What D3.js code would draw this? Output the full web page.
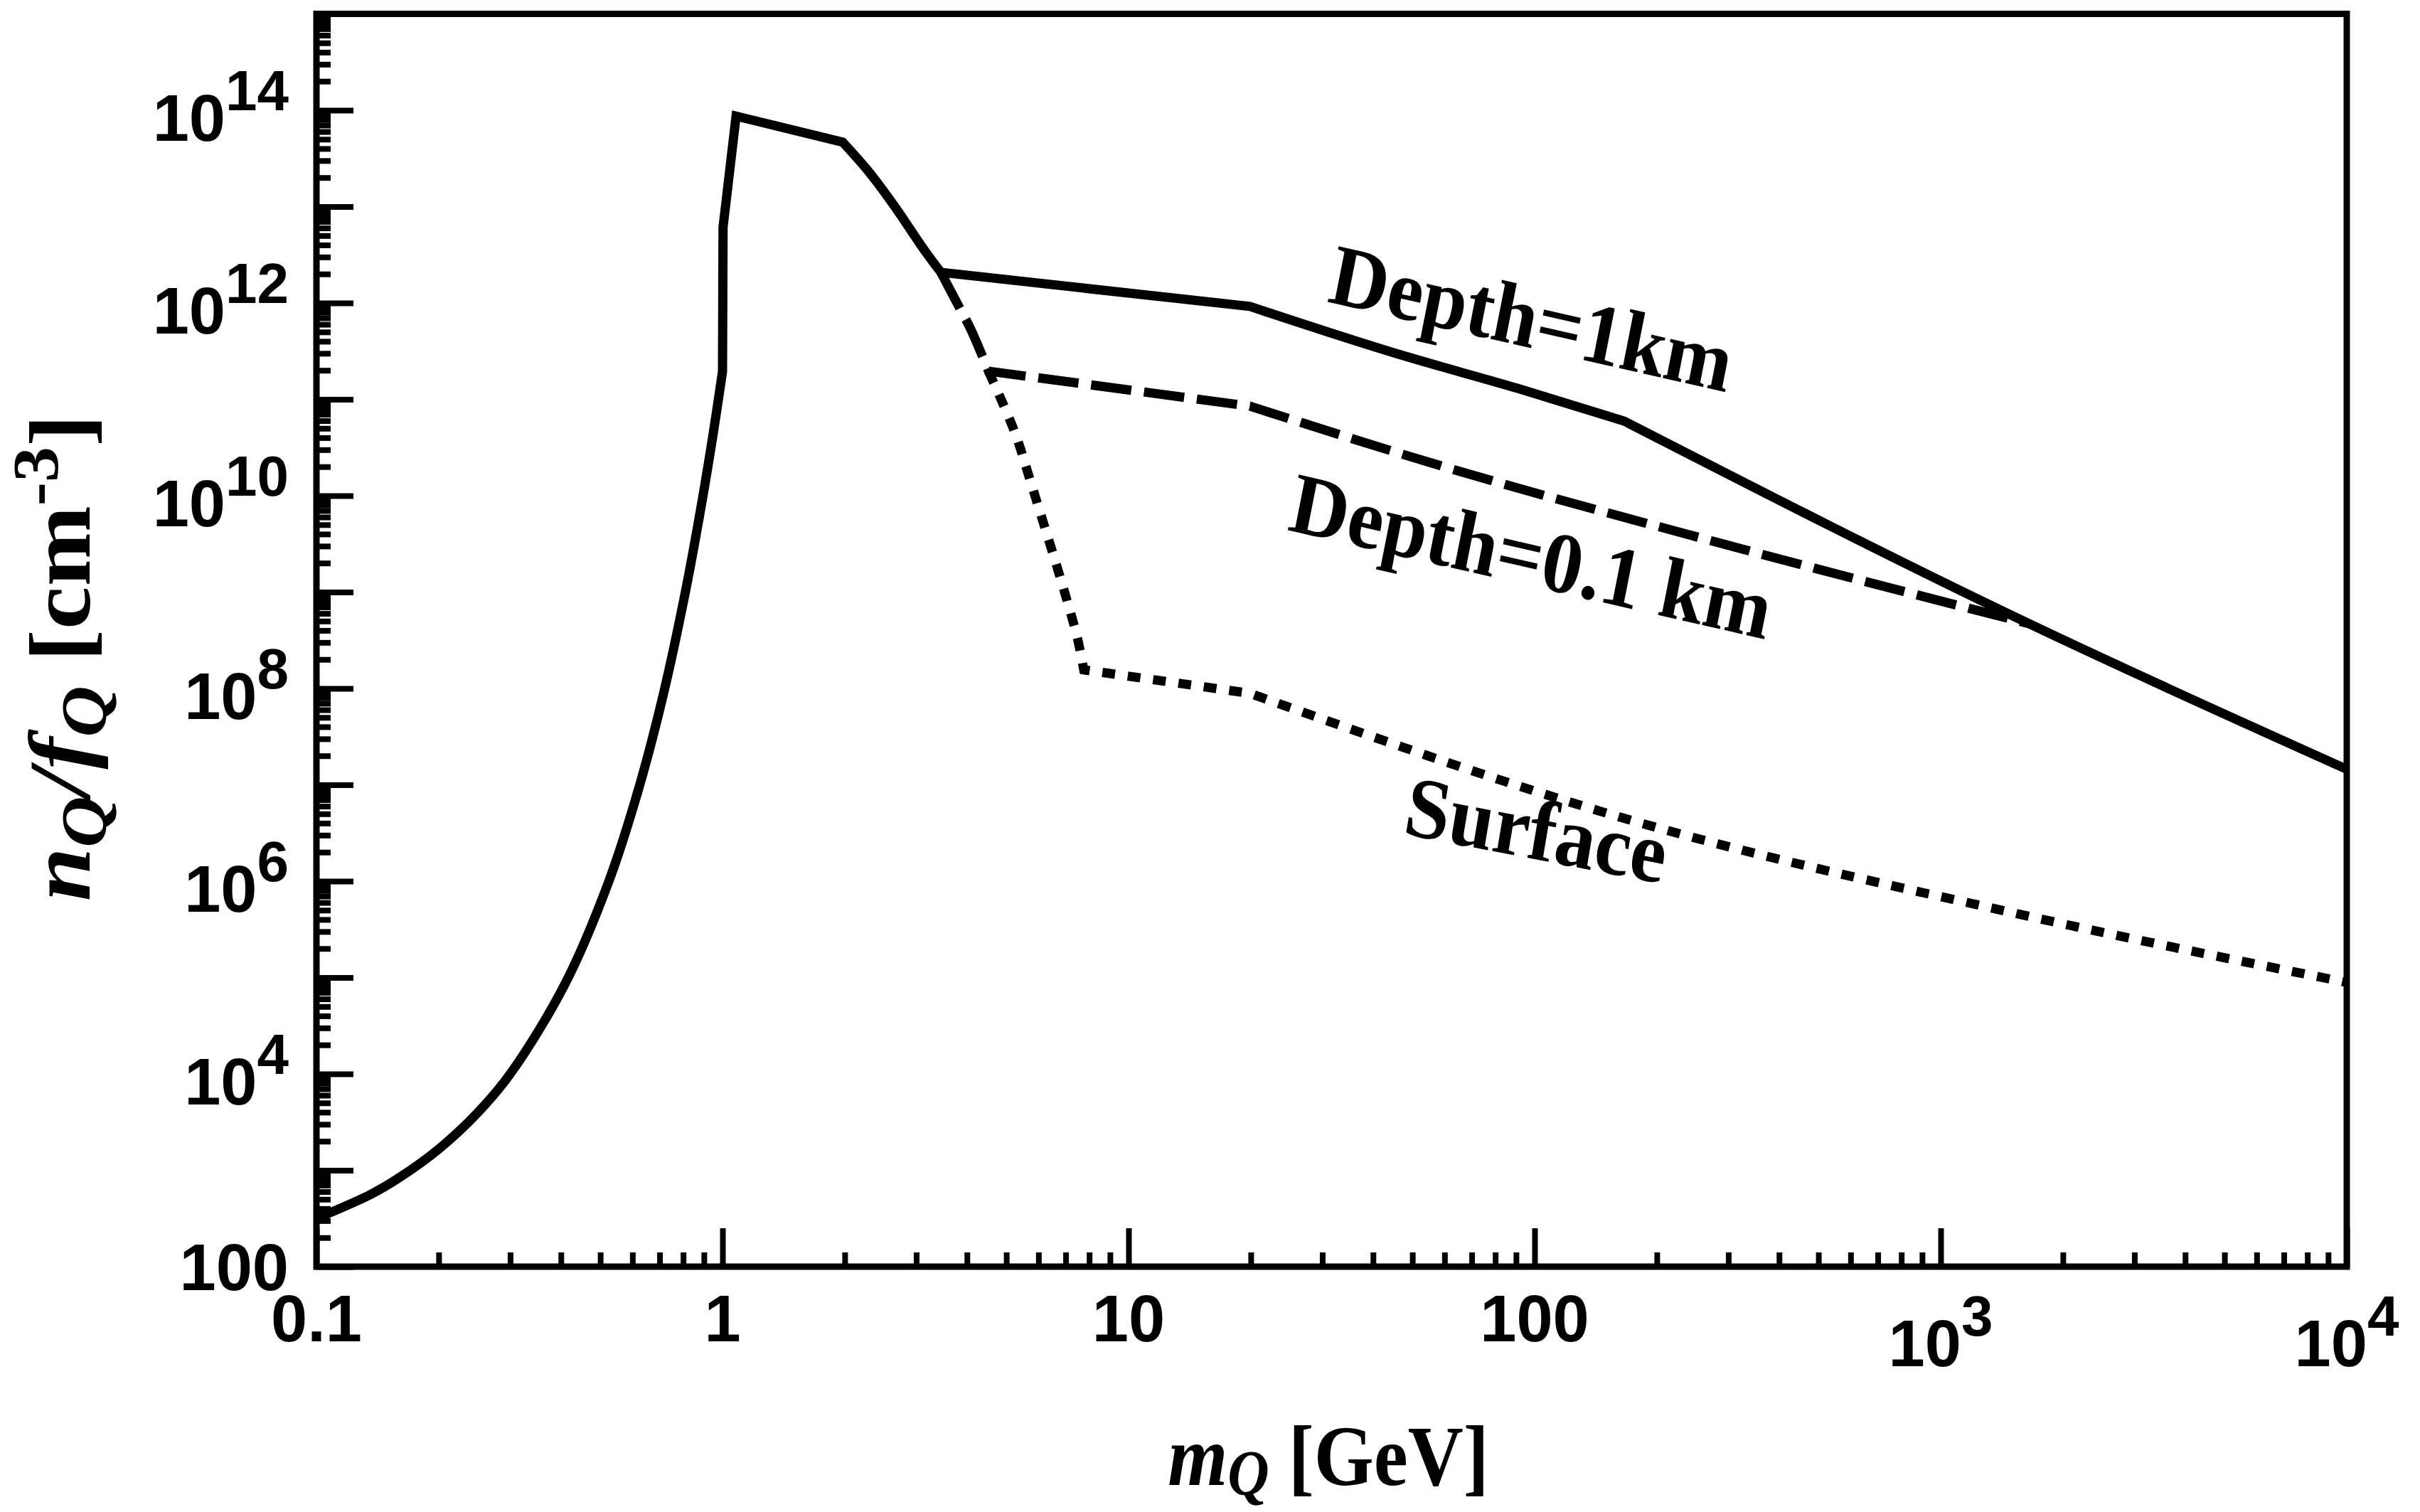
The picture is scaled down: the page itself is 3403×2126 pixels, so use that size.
<!DOCTYPE html>
<html>
<head>
<meta charset="utf-8">
<script src="https://cdn.jsdelivr.net/npm/d3@7"></script>
<style>
  html, body { margin: 0; padding: 0; background: #ffffff; }
  svg { display: block; }
</style>
</head>
<body>
<svg id="chart" width="3403" height="2126"></svg>
<script>
// Q-particle density n_Q/f_Q [cm^-3] versus mass m_Q [GeV]
// Rising branch below 1 GeV (shared by all curves)
const riseMass    = [0.1, 0.136, 0.16, 0.2, 0.25, 0.3, 0.41, 0.525, 0.622, 0.715, 0.81, 0.888, 0.95, 1.0];
const riseDensity = [316, 562, 840, 1.66e3, 4.0e3, 1.0e4, 8.7e4, 1.0e6, 9.2e6, 8.7e7, 1.0e9, 8.2e9, 4.6e10, 1.95e11];

// Jump and peak around 1-2 GeV
const peakMass    = [1.0, 1.003, 1.08, 1.977];
const peakDensity = [1.95e11, 6.1e12, 8.7e13, 4.66e13];

// Falling branch after the peak; the depth curves leave it at 3.45 GeV and 4.52 GeV
const fallMass    = [1.977, 2.304, 2.643, 3.144, 3.45, 3.77, 4.087, 4.519, 5.246, 5.755, 6.316, 6.901, 7.479, 7.756];
const fallDensity = [4.66e13, 2.24e13, 1.03e13, 3.52e12, 2.08e12, 1.02e12, 5.33e11, 1.96e11, 4.54e10, 1.34e10, 3.80e9, 1.12e9, 3.34e8, 1.56e8];

// Depth = 1 km
const deep1Mass    = [3.45, 19.9, 46.7, 90.8, 166, 1650, 1e4];
const deep1Density = [2.08e12, 9.2e11, 2.9e11, 1.3e11, 5.96e10, 4.7e8, 1.45e7];

// Depth = 0.1 km
const deep01Mass    = [4.519, 19.9, 55, 291, 1650];
const deep01Density = [1.96e11, 8.5e10, 2.22e10, 3.16e9, 4.7e8];

// Surface
const surfMass    = [7.756, 19.9, 170, 1538, 1e4];
const surfDensity = [1.56e8, 8.9e7, 4.37e6, 4.61e5, 8.9e4];

// Tick labels: [base, exponent]
const xTickValues = [0.1, 1, 10, 100, 1000, 10000];
const xTickLabels = [["0.1"], ["1"], ["10"], ["100"], ["10", "3"], ["10", "4"]];
const yTickValues = [1e2, 1e4, 1e6, 1e8, 1e10, 1e12, 1e14];
const yTickLabels = [["100"], ["10", "4"], ["10", "6"], ["10", "8"], ["10", "10"], ["10", "12"], ["10", "14"]];

const curveLabels = ["Depth=1km", "Depth=0.1 km", "Surface"];

// ---------------------------------------------------------------
const width = 3403, height = 2126;
const plot = { left: 445, right: 3300, top: 19.5, bottom: 1781 };
const serif = "'Liberation Serif', 'Times New Roman', Times, serif";
const sans = "'Liberation Sans', Arial, Helvetica, sans-serif";

const svg = d3.select("#chart");
svg.append("rect").attr("width", width).attr("height", height).attr("fill", "#fff");

const x = d3.scaleLog().domain([0.1, 1e4]).range([plot.left, plot.right]);
const y = d3.scaleLog().domain([1e2, 1e15]).range([plot.bottom, plot.top]);

// tick positions
const xMinor = [], xMajor = [];
for (let e = -1; e <= 4; e++) {
  xMajor.push(+(10 ** e).toPrecision(6));
  if (e < 4) for (let k = 2; k <= 9; k++) xMinor.push(+(k * 10 ** e).toPrecision(6));
}
const yMinor = [], yMajor = [];
for (let e = 2; e <= 15; e++) {
  yMajor.push(10 ** e);
  if (e < 15) for (let k = 2; k <= 9; k++) yMinor.push(k * 10 ** e);
}

function styleAxis(g, w) {
  g.select(".domain").remove();
  g.selectAll(".tick line").attr("stroke", "#000").attr("stroke-width", w);
  g.selectAll(".tick text").remove();
}
svg.append("g").attr("transform", `translate(0,${plot.bottom})`)
  .call(d3.axisBottom(x).tickValues(xMinor).tickSize(-20).tickFormat(""))
  .call(g => styleAxis(g, 8));
svg.append("g").attr("transform", `translate(0,${plot.bottom})`)
  .call(d3.axisBottom(x).tickValues(xMajor).tickSize(-54).tickFormat(""))
  .call(g => styleAxis(g, 8));
svg.append("g").attr("transform", `translate(${plot.left},0)`)
  .call(d3.axisLeft(y).tickValues(yMinor).tickSize(-20).tickFormat(""))
  .call(g => styleAxis(g, 8));
svg.append("g").attr("transform", `translate(${plot.left},0)`)
  .call(d3.axisLeft(y).tickValues(yMajor).tickSize(-52).tickFormat(""))
  .call(g => styleAxis(g, 8));

// frame
svg.append("rect")
  .attr("x", plot.left).attr("y", plot.top)
  .attr("width", plot.right - plot.left).attr("height", plot.bottom - plot.top)
  .attr("fill", "none").attr("stroke", "#000").attr("stroke-width", 9);

// curves
function segment(mass, dens, curve) {
  return d3.line()
    .x((d, i) => x(mass[i]))
    .y((d, i) => y(dens[i]))
    .curve(curve)(mass);
}
function joinPaths(parts) {
  return parts.map((p, i) => (i === 0 ? p : p.replace(/^M/, "L"))).join("");
}
const smooth = d3.curveCatmullRom.alpha(0.5);
const J = 4, C = 7; // indices of the branch points on the falling branch

const solidPath = joinPaths([
  segment(riseMass, riseDensity, smooth),
  segment(peakMass, peakDensity, d3.curveLinear),
  segment(fallMass.slice(0, J + 1), fallDensity.slice(0, J + 1), smooth),
  segment(deep1Mass.slice(0, 2), deep1Density.slice(0, 2), d3.curveLinear),
  segment(deep1Mass.slice(1, 5), deep1Density.slice(1, 5), d3.curveMonotoneX),
  segment(deep1Mass.slice(4), deep1Density.slice(4), d3.curveMonotoneX)
]);
const dashedPath = joinPaths([
  segment(fallMass.slice(J, C + 1), fallDensity.slice(J, C + 1), smooth),
  segment(deep01Mass.slice(0, 2), deep01Density.slice(0, 2), d3.curveLinear),
  segment(deep01Mass.slice(1), deep01Density.slice(1), d3.curveMonotoneX)
]);
const dottedPath = joinPaths([
  segment(fallMass.slice(C), fallDensity.slice(C), smooth),
  segment(surfMass.slice(0, 2), surfDensity.slice(0, 2), d3.curveLinear),
  segment(surfMass.slice(1), surfDensity.slice(1), d3.curveMonotoneX)
]);

const curves = svg.append("g").attr("fill", "none").attr("stroke", "#000")
  .attr("stroke-width", 13).attr("stroke-linejoin", "miter").attr("stroke-miterlimit", 3);
curves.append("path").attr("d", dottedPath).attr("stroke-dasharray", "18,18");
curves.append("path").attr("d", dashedPath).attr("stroke-dasharray", "57,18");
curves.append("path").attr("d", solidPath);

// tick labels
const yl = svg.append("g").attr("font-family", sans).attr("font-weight", "bold").attr("fill", "#000");
yTickValues.forEach((v, i) => {
  const lab = yTickLabels[i];
  const t = yl.append("text").attr("x", 406).attr("text-anchor", "end").attr("font-size", 92);
  if (lab.length === 1) {
    t.attr("y", y(v) + 33).text(lab[0]);
  } else {
    t.attr("y", y(v) + 43);
    t.append("tspan").text(lab[0]);
    t.append("tspan").attr("dy", -43).attr("font-size", 80).text(lab[1]);
  }
});
const xl = svg.append("g").attr("font-family", sans).attr("font-weight", "bold").attr("fill", "#000");
xTickValues.forEach((v, i) => {
  const lab = xTickLabels[i];
  const t = xl.append("text").attr("x", x(v)).attr("text-anchor", "middle").attr("font-size", 92);
  if (lab.length === 1) {
    t.attr("y", 1886).text(lab[0]);
  } else {
    t.attr("y", 1921);
    t.append("tspan").text(lab[0]);
    t.append("tspan").attr("dy", -43).attr("font-size", 80).text(lab[1]);
  }
});

// axis titles
const xt = svg.append("g").attr("transform", "translate(1868,2088) scale(0.9,1)")
  .append("text").attr("text-anchor", "middle").attr("font-family", serif)
  .attr("font-weight", "bold").attr("font-size", 120).attr("fill", "#000");
xt.append("tspan").attr("font-style", "italic").text("m");
xt.append("tspan").attr("font-style", "italic").attr("font-size", 90).attr("dy", 14).text("Q");
xt.append("tspan").attr("dy", -14).text(" [GeV]");

const ytl = svg.append("g").attr("transform", "translate(126,925) scale(0.9,1) rotate(-90)")
  .append("text").attr("text-anchor", "middle").attr("font-family", serif)
  .attr("font-weight", "bold").attr("font-size", 136).attr("fill", "#000");
ytl.append("tspan").attr("font-style", "italic").text("n");
ytl.append("tspan").attr("font-style", "italic").attr("font-size", 100).attr("dy", 26).text("Q");
ytl.append("tspan").attr("font-style", "italic").attr("dy", -26).text("/f");
ytl.append("tspan").attr("font-style", "italic").attr("font-size", 100).attr("dy", 26).text("Q");
ytl.append("tspan").attr("dy", -26).text(" [cm");
ytl.append("tspan").attr("font-size", 100).attr("dy", -50).text("-3");
ytl.append("tspan").attr("dy", 50).text("]");

// curve labels
const lx = 0.93;
const labelPos = [
  { x: 1865, y: 424, angle: 12.8 },
  { x: 1809, y: 745, angle: 12.9 },
  { x: 1971, y: 1172, angle: 10.9 }
];
const cl = svg.append("g").attr("font-family", serif).attr("font-weight", "bold").attr("fill", "#000");
curveLabels.forEach((txt, i) => {
  const p = labelPos[i];
  const a = Math.atan(lx * Math.tan(p.angle * Math.PI / 180)) * 180 / Math.PI;
  cl.append("g").attr("transform", `translate(${p.x},${p.y}) scale(${lx},1) rotate(${a})`)
    .append("text").attr("font-size", 122).text(txt);
});
</script>
</body>
</html>
